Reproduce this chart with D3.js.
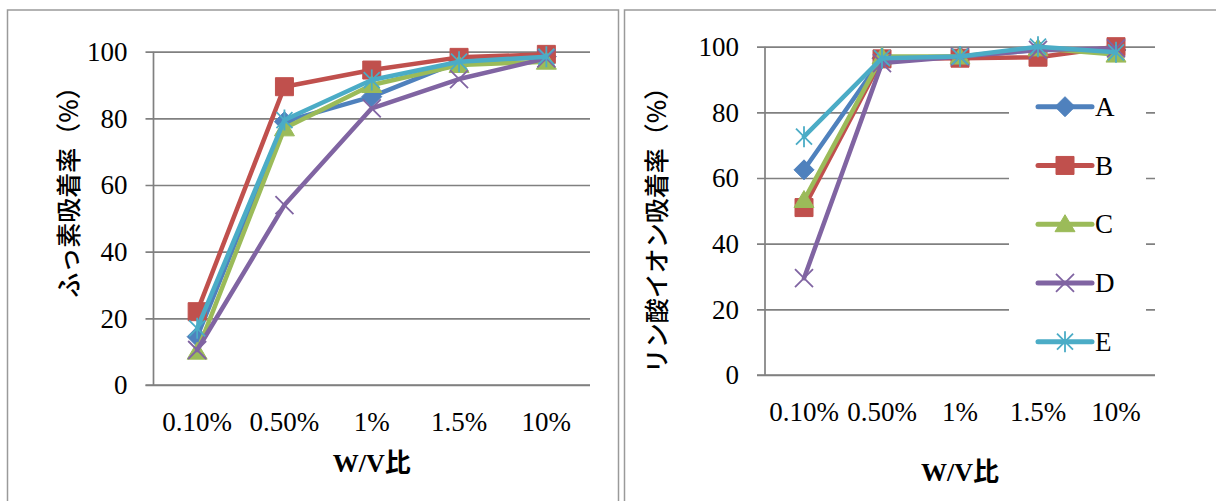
<!DOCTYPE html>
<html>
<head>
<meta charset="utf-8">
<script src="https://cdn.jsdelivr.net/npm/d3@7"></script>
<style>
  html, body { margin: 0; padding: 0; background: #fff; }
  svg { display: block; }
</style>
</head>
<body>
<svg id="chart" width="1216" height="501"></svg>
<script>
// Categories (W/V ratio) shared by both panels
const categories = ["0.10%", "0.50%", "1%", "1.5%", "10%"];
const seriesNames = ["A", "B", "C", "D", "E"];
const seriesColors = ["#4F81BD", "#C0504D", "#9BBB59", "#8064A2", "#4BACC6"];
const markerKinds = ["diamond", "square", "triangle", "x", "star"];
const yTicks = [0, 20, 40, 60, 80, 100];

// Fluoride adsorption rate (%)
const fluorideA = [14.5, 79, 86.5, 97, 98.5];
const fluorideB = [22, 89.5, 94.5, 98.3, 99.2];
const fluorideC = [10, 77, 90, 96, 97];
const fluorideD = [10.5, 54, 83, 91.8, 98];
const fluorideE = [17, 79.5, 91.5, 97, 98.5];

// Phosphate ion adsorption rate (%)
const phosphateA = [62.5, 96.5, 97, 99, 99];
const phosphateB = [51, 96.3, 96.5, 96.8, 100];
const phosphateC = [53.3, 97, 97, 99.5, 97.6];
const phosphateD = [29.5, 95, 97, 99, 99.5];
const phosphateE = [72.6, 96.5, 97, 100, 98.3];

const SERIF = "'Liberation Serif', 'Times New Roman', Tinos, 'DejaVu Serif', serif";
const CJK = "'Noto Sans CJK JP', 'Noto Sans', sans-serif";

const svg = d3.select("#chart");
svg.append("rect").attr("width", 1216).attr("height", 501).attr("fill", "#fff");

// Chart area frames
svg.append("rect").attr("x", 7.5).attr("y", 10).attr("width", 611).attr("height", 520)
  .attr("fill", "none").attr("stroke", "#9a9a9a").attr("stroke-width", 1.5);
svg.append("rect").attr("x", 624.5).attr("y", 10).attr("width", 620).attr("height", 520)
  .attr("fill", "none").attr("stroke", "#9a9a9a").attr("stroke-width", 1.5);

function markerPath(kind) {
  switch (kind) {
    case "diamond": return "M0,-10L10,0L0,10L-10,0Z";
    case "square": return "M-9,-9H9V9H-9Z";
    case "triangle": return "M0,-9.5L10,7.5L-10,7.5Z";
    case "x": return "M-9,-9L9,9M-9,9L9,-9";
    case "star": return "M-8,-8L8,8M-8,8L8,-8M0,-10.5V10.5";
  }
}

function drawMarker(g, kind, color, x, y) {
  const filled = kind === "diamond" || kind === "square" || kind === "triangle";
  g.append("path")
    .attr("d", markerPath(kind))
    .attr("transform", `translate(${x},${y})`)
    .attr("fill", filled ? color : "none")
    .attr("stroke", color)
    .attr("stroke-width", filled ? 1 : 1.8);
}

function serifText(sel, size) {
  return sel.attr("font-family", SERIF).attr("font-size", size).attr("fill", "#000");
}

function drawPanel(opts) {
  const { left, right, top, bottom, series, yTitle, yTitlePos, xTickY, xTitleY, legend } = opts;
  const g = svg.append("g");

  const x = d3.scaleBand().domain(categories).range([left, right]).padding(0);
  const y = d3.scaleLinear().domain([0, 100]).range([bottom, top]);

  // Gridlines with outside tick marks
  const yAxis = d3.axisLeft(y).tickValues(yTicks).tickSize(-(right - left)).tickPadding(0).tickFormat("");
  const ga = g.append("g").attr("transform", `translate(${left},0)`).call(yAxis);
  ga.select(".domain").remove();
  ga.selectAll(".tick line")
    .attr("x1", -8)
    .attr("stroke", "#808080").attr("stroke-width", 1.7);

  // Legend background hides the gridlines behind it
  if (legend) {
    g.append("rect").attr("x", legend.boxX).attr("y", legend.boxY)
      .attr("width", legend.boxW).attr("height", legend.boxH).attr("fill", "#fff");
  }

  // Axis lines
  g.append("line").attr("x1", left).attr("x2", left).attr("y1", top).attr("y2", bottom)
    .attr("stroke", "#808080").attr("stroke-width", 1.7);
  g.append("line").attr("x1", left - 8).attr("x2", right).attr("y1", bottom).attr("y2", bottom)
    .attr("stroke", "#808080").attr("stroke-width", 1.7);

  // Y tick labels
  serifText(g.selectAll(".ylab").data(yTicks).join("text"), 27)
    .attr("x", left - 26)
    .attr("y", d => y(d))
    .attr("dy", "0.34em")
    .attr("text-anchor", "end")
    .text(d => d);

  // X tick labels
  serifText(g.selectAll(".xlab").data(categories).join("text"), 27)
    .attr("x", d => x(d) + x.bandwidth() / 2)
    .attr("y", xTickY)
    .attr("text-anchor", "middle")
    .text(d => d);

  // Axis titles
  const xt = serifText(g.append("text"), 26)
    .attr("font-weight", "bold")
    .attr("x", (left + right) / 2).attr("y", xTitleY)
    .attr("text-anchor", "middle");
  xt.append("tspan").text("W/V");
  xt.append("tspan").attr("font-family", CJK).text("比");

  g.append("text")
    .attr("font-family", CJK).attr("font-size", 25).attr("font-weight", 500).attr("fill", "#000")
    .attr("transform", `translate(${yTitlePos[0]},${yTitlePos[1]}) rotate(-90)`)
    .attr("text-anchor", "middle")
    .attr("dominant-baseline", "central")
    .text(yTitle);

  // Series lines and markers
  const line = d3.line()
    .x((d, i) => x(categories[i]) + x.bandwidth() / 2)
    .y(d => y(d));
  series.forEach((vals, si) => {
    const sg = g.append("g");
    sg.append("path").attr("d", line(vals))
      .attr("fill", "none").attr("stroke", seriesColors[si])
      .attr("stroke-width", 4.5).attr("stroke-linejoin", "round").attr("stroke-linecap", "round");
    vals.forEach((v, i) => {
      drawMarker(sg, markerKinds[si], seriesColors[si], x(categories[i]) + x.bandwidth() / 2, y(v));
    });
  });

  // Legend entries
  if (legend) {
    seriesNames.forEach((name, si) => {
      const ly = legend.firstY + si * legend.step;
      g.append("line").attr("x1", legend.lineX1).attr("x2", legend.lineX2)
        .attr("y1", ly).attr("y2", ly)
        .attr("stroke", seriesColors[si]).attr("stroke-width", 5).attr("stroke-linecap", "round");
      drawMarker(g, markerKinds[si], seriesColors[si], (legend.lineX1 + legend.lineX2) / 2, ly);
      serifText(g.append("text"), 27)
        .attr("x", legend.lineX2 + 3).attr("y", ly).attr("dy", "0.34em")
        .text(name);
    });
  }
}

drawPanel({
  left: 153.5, right: 590, top: 51.7, bottom: 385,
  series: [fluorideA, fluorideB, fluorideC, fluorideD, fluorideE],
  yTitle: "ふっ素吸着率（%）",
  yTitlePos: [67, 186],
  xTickY: 431, xTitleY: 472,
  legend: null
});

drawPanel({
  left: 765, right: 1155, top: 46.7, bottom: 375,
  series: [phosphateA, phosphateB, phosphateC, phosphateD, phosphateE],
  yTitle: "リン酸イオン吸着率（%）",
  yTitlePos: [655, 224],
  xTickY: 421, xTitleY: 481,
  legend: { boxX: 1009, boxY: 76, boxW: 137, boxH: 292, lineX1: 1038, lineX2: 1092, firstY: 106.7, step: 58.75 }
});
</script>
</body>
</html>
